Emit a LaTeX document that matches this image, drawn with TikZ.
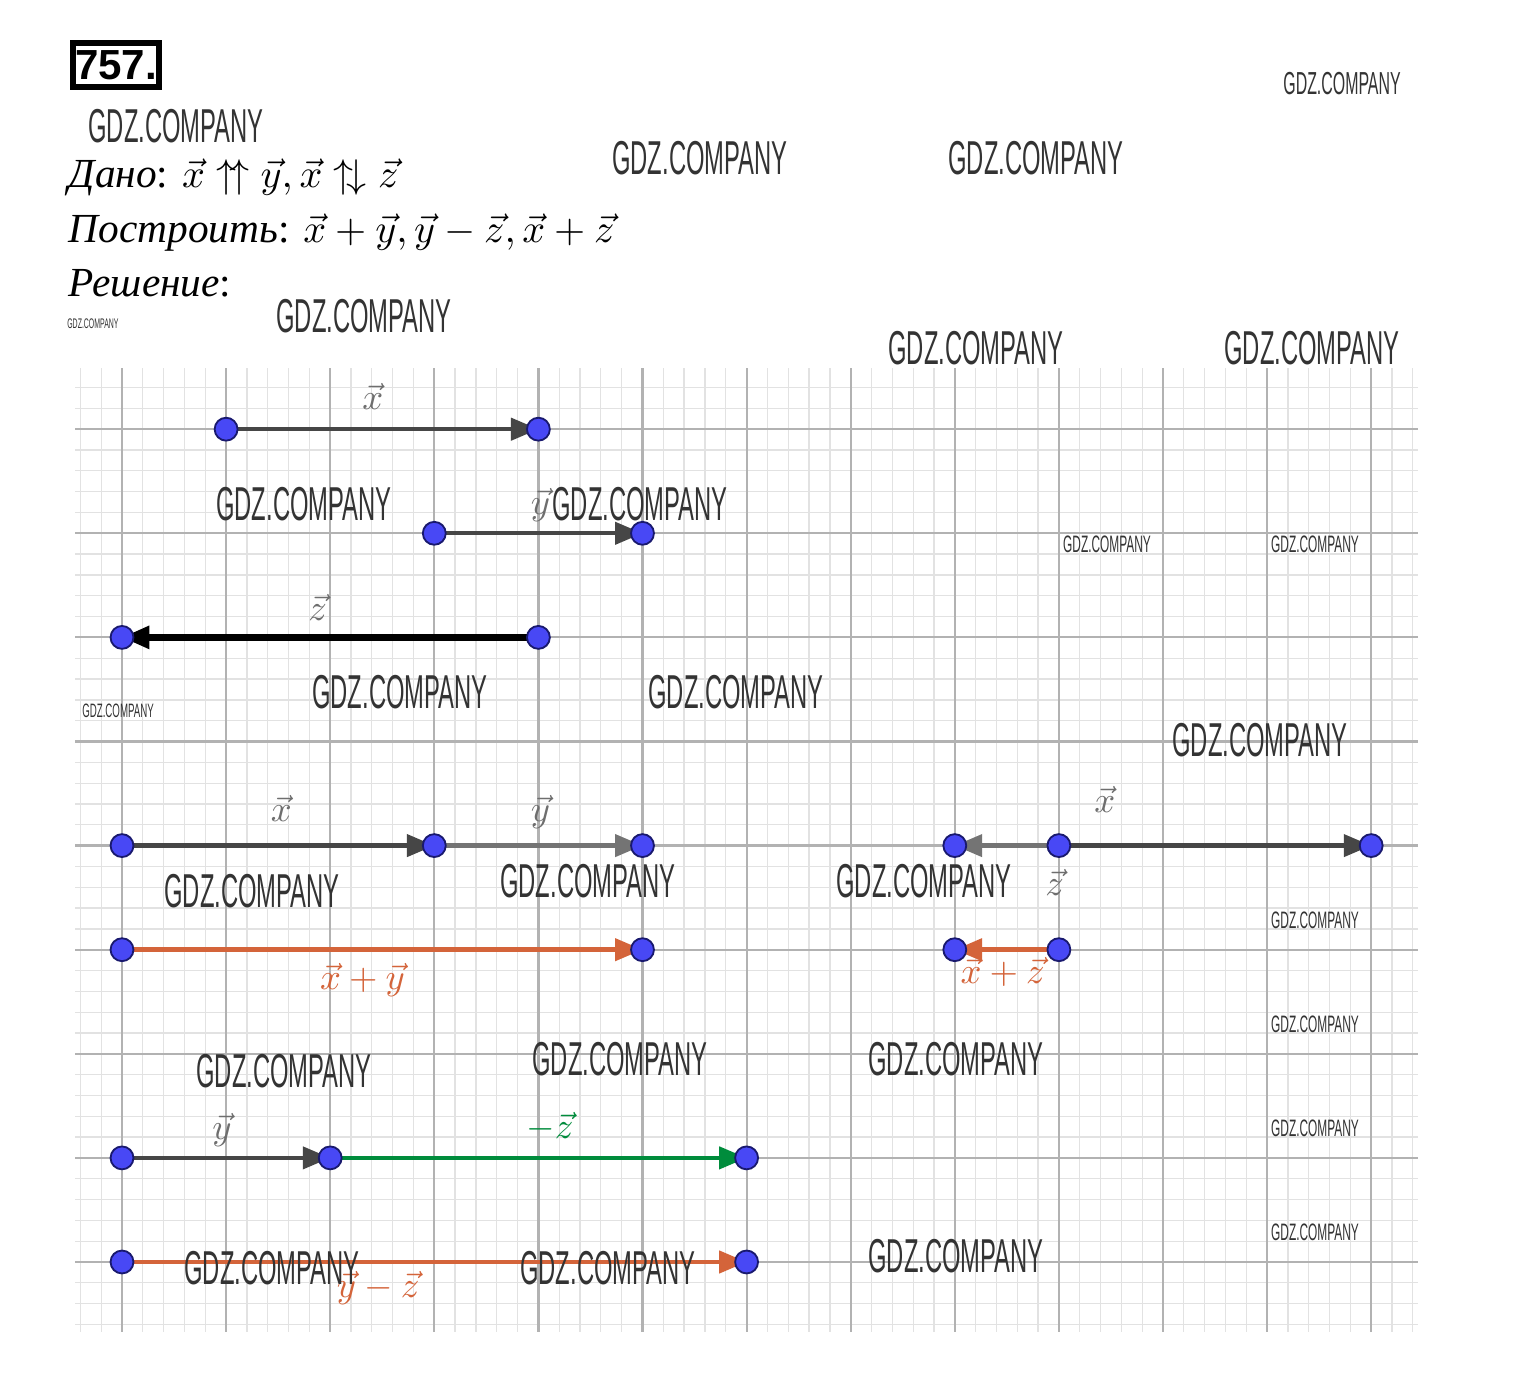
\documentclass[tikz,border=0pt]{standalone}
\usepackage{amssymb}
\usepackage{fontspec}
\setmainfont{Liberation Serif}
\newfontfamily\wmfont{Liberation Sans}
\newfontfamily\numfont{Liberation Sans}
\usetikzlibrary{arrows.meta}

\definecolor{ptblue}{RGB}{72,72,245}
\definecolor{ptedge}{RGB}{25,25,110}
\definecolor{vecgray}{RGB}{70,70,70}
\definecolor{labgray}{RGB}{110,110,110}
\definecolor{vecorange}{RGB}{212,100,58}
\definecolor{vecgreen}{RGB}{0,140,60}
\definecolor{majorgrid}{RGB}{178,178,178}
\definecolor{minorgrid}{RGB}{226,226,226}

\tikzset{
  vec/.style={line width=1.2pt, draw=vecgray, -{Triangle[length=7.5pt,width=6pt]}},
  sumvec/.style={vec, draw=vecorange},
  negvec/.style={vec, draw=vecgreen},
  pt/.style={circle, fill=ptblue, draw=ptedge, line width=0.5pt, inner sep=0pt, minimum size=0.22cm},
  veclab/.style={font=\normalsize, text=labgray},
  wm/.style={font=\wmfont\fontsize{13}{13}\selectfont, xscale=0.5, text=black!80, inner sep=0pt},
  wmmid/.style={wm, font=\wmfont\fontsize{8.7}{9}\selectfont},
  wmsmall/.style={wm, font=\wmfont\fontsize{6.5}{7}\selectfont},
  wmsmaller/.style={wm, font=\wmfont\fontsize{5.3}{6}\selectfont},
  wmtiny/.style={wm, font=\wmfont\fontsize{3.8}{4}\selectfont},
  given/.style={anchor=base west, inner sep=0pt, font=\fontsize{11.3}{13}\selectfont}
}

\begin{document}
\begin{tikzpicture}
% page size and background
\useasboundingbox (-1.172,-1.201) rectangle (13.545,12.123);
\fill[white] (-1.172,-1.201) rectangle (13.545,12.123);

% squared paper
\draw[minorgrid, line width=0.35pt, step=0.2] (-0.451,-0.672) grid (12.45,8.588);
\draw[majorgrid, line width=0.6pt, step=1] (-0.451,-0.672) grid (12.45,8.588);

% header
\node[draw, line width=1.6pt, inner xsep=0.6pt, inner ysep=2pt, font=\numfont\bfseries\fontsize{11.5}{12}\selectfont] (num) at (-0.058,11.50) {757.};
\node[given] (dano) at (-0.519,10.317) {\textit{Дано}: $\vec{x}\uparrow\!\uparrow\vec{y},\vec{x}\uparrow\!\downarrow\vec{z}$};
\node[given] (build) at (-0.519,9.789) {\textit{Построить}: $\vec{x}+\vec{y},\vec{y}-\vec{z},\vec{x}+\vec{z}$};
\node[given] (sol) at (-0.519,9.270) {\textit{Решение}:};

% end points of the vectors
\coordinate (x1) at (1,8);  \coordinate (x2) at (4,8);
\coordinate (y1) at (3,7);  \coordinate (y2) at (5,7);
\coordinate (z1) at (4,6);  \coordinate (z2) at (0,6);
\coordinate (a1) at (0,4);  \coordinate (a2) at (3,4);  \coordinate (a3) at (5,4);
\coordinate (s1) at (0,3);  \coordinate (s2) at (5,3);
\coordinate (b1) at (9,4);  \coordinate (b2) at (12,4); \coordinate (b3) at (8,4);
\coordinate (t1) at (9,3);  \coordinate (t2) at (8,3);
\coordinate (c1) at (0,1);  \coordinate (c2) at (2,1);  \coordinate (c3) at (6,1);
\coordinate (d1) at (0,0);  \coordinate (d2) at (6,0);

% given vectors
\draw[vec] (x1) -- (x2);
\draw[vec] (y1) -- (y2);
\draw[vec, draw=black, line width=1.7pt] (z1) -- (z2);
\node[veclab] (xlab) at (2.41,8.31) {$\vec{x}$};
\node[veclab] (ylab) at (4.02,7.27) {$\vec{y}$};
\node[veclab] (zlab) at (1.88,6.29) {$\vec{z}$};

% x + y
\draw[vec] (a1) -- (a2);
\draw[vec, draw=vecgray!75] (a2) -- (a3);
\draw[sumvec] (s1) -- (s2);
\node[veclab] (axlab) at (1.53,4.36) {$\vec{x}$};
\node[veclab] (aylab) at (4.02,4.32) {$\vec{y}$};
\node[veclab, text=vecorange] (slab) at (2.31,2.71) {$\vec{x}+\vec{y}$};

% x + z
\draw[vec, draw=vecgray!75] (b2) -- (b3);
\draw[vec] (b1) -- (b2);
\draw[sumvec] (t1) -- (t2);
\node[veclab] (bxlab) at (9.44,4.44) {$\vec{x}$};
\node[veclab] (bzlab) at (8.96,3.65) {$\vec{z}$};
\node[veclab, text=vecorange] (tlab) at (8.46,2.79) {$\vec{x}+\vec{z}$};

% y - z
\draw[vec] (c1) -- (c2);
\draw[negvec] (c2) -- (c3);
\draw[sumvec] (d1) -- (d2);
\node[veclab] (cylab) at (0.96,1.27) {$\vec{y}$};
\node[veclab, text=vecgreen] (czlab) at (4.11,1.30) {$-\vec{z}$};
\node[veclab, text=vecorange] (dlab) at (2.46,-0.25) {$\vec{y}-\vec{z}$};

% points
\foreach \p in {x1,x2,y1,y2,z1,z2,a1,a2,a3,s1,s2,b1,b2,b3,t1,t2,c1,c2,c3,d1,d2}
  \node[pt] (p-\p) at (\p) {};

% watermarks
\node[wm] (w1) at (0.520,10.91) {GDZ.COMPANY};
\node[wm] (w2) at (5.552,10.60) {GDZ.COMPANY};
\node[wm] (w3) at (8.780,10.60) {GDZ.COMPANY};
\node[wm] (w4) at (2.325,9.087) {GDZ.COMPANY};
\node[wm] (w5) at (8.204,8.780) {GDZ.COMPANY};
\node[wm] (w6) at (11.432,8.780) {GDZ.COMPANY};
\node[wm] (w7) at (1.748,7.281) {GDZ.COMPANY};
\node[wm] (w8) at (4.976,7.281) {GDZ.COMPANY};
\node[wm] (w9) at (2.670,5.475) {GDZ.COMPANY};
\node[wm] (w10) at (5.898,5.475) {GDZ.COMPANY};
\node[wm] (w11) at (10.932,5.014) {GDZ.COMPANY};
\node[wm] (w12) at (1.249,3.564) {GDZ.COMPANY};
\node[wm] (w13) at (4.476,3.660) {GDZ.COMPANY};
\node[wm] (w14) at (7.704,3.660) {GDZ.COMPANY};
\node[wm] (w15) at (1.556,1.835) {GDZ.COMPANY};
\node[wm] (w16) at (4.784,1.950) {GDZ.COMPANY};
\node[wm] (w17) at (8.012,1.950) {GDZ.COMPANY};
\node[wm] (w18) at (1.441,-0.058) {GDZ.COMPANY};
\node[wm] (w19) at (4.668,-0.058) {GDZ.COMPANY};
\node[wm] (w20) at (8.012,0.058) {GDZ.COMPANY};
\node[wmmid] (w21) at (11.720,11.325) {GDZ.COMPANY};
\node[wmsmall] (w22) at (9.462,6.897) {GDZ.COMPANY};
\node[wmsmall] (w23) at (11.460,6.897) {GDZ.COMPANY};
\node[wmsmaller] (w24) at (-0.038,5.293) {GDZ.COMPANY};
\node[wmsmall] (w25) at (11.460,3.285) {GDZ.COMPANY};
\node[wmsmall] (w26) at (11.460,2.286) {GDZ.COMPANY};
\node[wmsmall] (w27) at (11.460,1.287) {GDZ.COMPANY};
\node[wmsmall] (w28) at (11.460,0.288) {GDZ.COMPANY};
\node[wmtiny] (w29) at (-0.279,9.010) {GDZ.COMPANY};
\end{tikzpicture}
\end{document}
